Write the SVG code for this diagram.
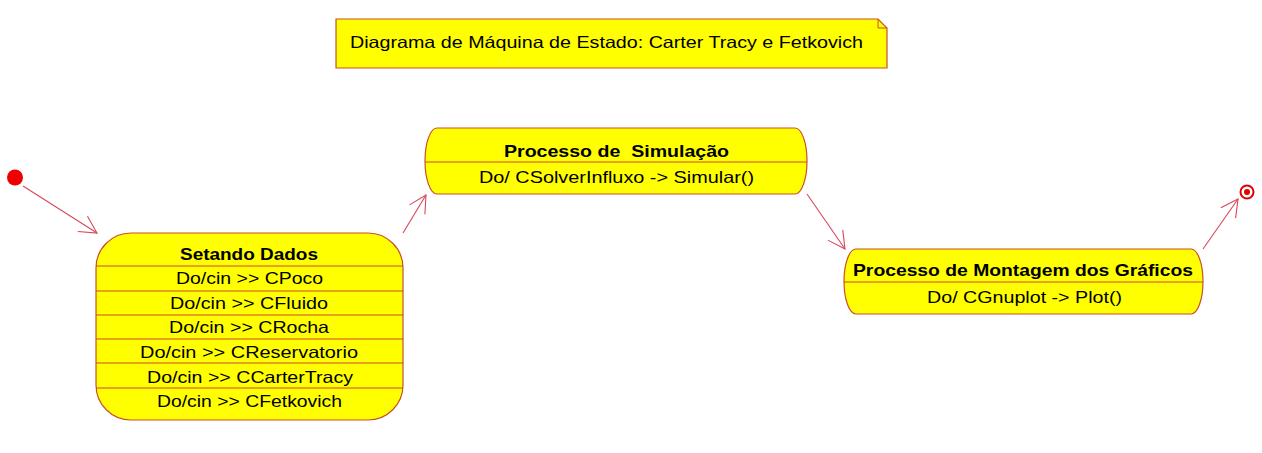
<svg xmlns="http://www.w3.org/2000/svg" width="1262" height="453" viewBox="0 0 1262 453">
<style>
.box{fill:#ffff00;stroke:#c8502a;stroke-width:1.2}
.div{stroke:#d0482e;stroke-width:1.2}
.t{font-family:"Liberation Sans",Arial,sans-serif;font-size:16.5px;fill:#000;text-anchor:start}
.b{font-weight:bold}
.edge{fill:none;stroke:#d8465a;stroke-width:1.1}
</style>
<defs>
<marker id="open" markerUnits="userSpaceOnUse" markerWidth="24" markerHeight="24" viewBox="-20 -12 24 24" refX="0" refY="0" orient="auto">
<path d="M -17 -9 L 0 0 L -17 9" fill="none" stroke="#d8465a" stroke-width="1.1"/>
</marker>
</defs>
<rect width="1262" height="453" fill="#ffffff"/>

<g id="note">
<path d="M336 19 L878 19 L887 28 L887 68 L336 68 Z" class="box"/>
<path d="M878 19 L878 28 L887 28" fill="none" stroke="#c8502a" stroke-width="1"/>
<text class="t" x="350" y="48" textLength="513" lengthAdjust="spacingAndGlyphs">Diagrama de Máquina de Estado: Carter Tracy e Fetkovich</text>
</g>

<g id="initial">
<circle cx="15" cy="177.5" r="8" fill="#ee0000"/>
</g>

<g id="setando">
<rect x="96" y="233" width="307" height="187" rx="35" ry="35" class="box"/>
<line x1="96" y1="266" x2="403" y2="266" class="div"/>
<line x1="96" y1="291" x2="403" y2="291" class="div"/>
<line x1="96" y1="315" x2="403" y2="315" class="div"/>
<line x1="96" y1="339" x2="403" y2="339" class="div"/>
<line x1="96" y1="363" x2="403" y2="363" class="div"/>
<line x1="96" y1="388" x2="403" y2="388" class="div"/>
<text class="t b" x="180" y="260" textLength="138" lengthAdjust="spacingAndGlyphs">Setando Dados</text>
<text class="t" x="176" y="284" textLength="147" lengthAdjust="spacingAndGlyphs">Do/cin &gt;&gt; CPoco</text>
<text class="t" x="170" y="309" textLength="158" lengthAdjust="spacingAndGlyphs">Do/cin &gt;&gt; CFluido</text>
<text class="t" x="169" y="333" textLength="160" lengthAdjust="spacingAndGlyphs">Do/cin &gt;&gt; CRocha</text>
<text class="t" x="140" y="358" textLength="218" lengthAdjust="spacingAndGlyphs">Do/cin &gt;&gt; CReservatorio</text>
<text class="t" x="147" y="383" textLength="206" lengthAdjust="spacingAndGlyphs">Do/cin &gt;&gt; CCarterTracy</text>
<text class="t" x="157" y="407" textLength="185" lengthAdjust="spacingAndGlyphs">Do/cin &gt;&gt; CFetkovich</text>
</g>

<g id="simulacao">
<rect x="425" y="128" width="382" height="66" rx="12" ry="33" class="box"/>
<line x1="425" y1="162" x2="807" y2="162" class="div"/>
<text class="t b" x="504" y="157" textLength="225" lengthAdjust="spacingAndGlyphs" style="white-space:pre">Processo de  Simulação</text>
<text class="t" x="479" y="183" textLength="275" lengthAdjust="spacingAndGlyphs">Do/ CSolverInfluxo -&gt; Simular()</text>
</g>

<g id="montagem">
<rect x="844" y="249" width="359" height="65" rx="12" ry="32.5" class="box"/>
<line x1="844" y1="282" x2="1203" y2="282" class="div"/>
<text class="t b" x="853" y="276" textLength="340" lengthAdjust="spacingAndGlyphs">Processo de Montagem dos Gráficos</text>
<text class="t" x="927" y="303" textLength="195" lengthAdjust="spacingAndGlyphs">Do/ CGnuplot -&gt; Plot()</text>
</g>

<g id="final">
<circle cx="1247" cy="192" r="6.5" fill="#ffffff" stroke="#e00000" stroke-width="2"/>
<circle cx="1247" cy="192" r="3" fill="#e00000"/>
</g>

<g id="connectors">
<line x1="23" y1="186" x2="97" y2="233" class="edge" marker-end="url(#open)"/>
<line x1="403" y1="233" x2="426" y2="195" class="edge" marker-end="url(#open)"/>
<line x1="807" y1="194" x2="845" y2="249" class="edge" marker-end="url(#open)"/>
<line x1="1203" y1="249" x2="1238" y2="199" class="edge" marker-end="url(#open)"/>
</g>
</svg>
